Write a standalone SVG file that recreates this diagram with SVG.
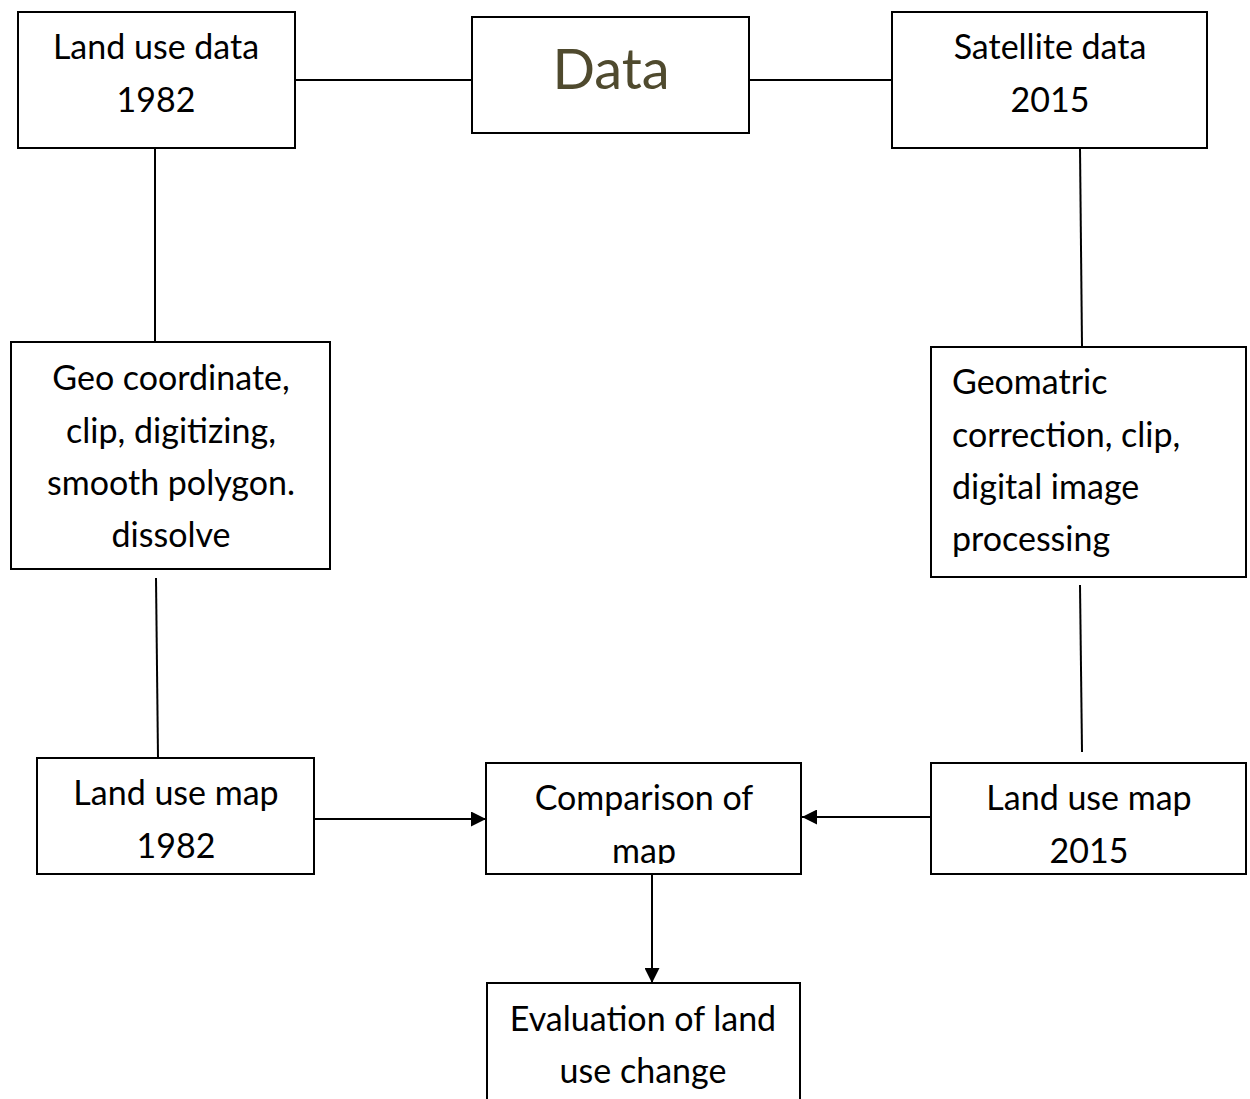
<svg xmlns="http://www.w3.org/2000/svg" width="1250" height="1099" viewBox="0 0 1250 1099">
<style>
.box{fill:#fff;stroke:#000;stroke-width:2}
.t{font-family:Lato,"Open Sans",sans-serif;font-size:34px;fill:#000;text-anchor:middle}
.l{text-anchor:start}
.c{stroke:#000;stroke-width:2;fill:none}
</style>
<defs>
<marker id="ah" viewBox="0 0 10 10" refX="10" refY="5" markerWidth="15" markerHeight="15" markerUnits="userSpaceOnUse" orient="auto">
<path d="M0,0 L10,5 L0,10 z" fill="#000"/>
</marker>
<clipPath id="cmpclip"><rect x="486" y="763" width="315" height="101"/></clipPath>
</defs>
<rect width="1250" height="1099" fill="#fff"/>
<g id="connectors">
<line class="c" x1="295" y1="80" x2="472" y2="80"/>
<line class="c" x1="749" y1="80" x2="892" y2="80"/>
<line class="c" x1="155" y1="148" x2="155" y2="342"/>
<line class="c" x1="1080" y1="148" x2="1082" y2="347"/>
<line class="c" x1="156" y1="578" x2="158" y2="758"/>
<line class="c" x1="1080" y1="585" x2="1082" y2="752"/>
<line class="c" x1="314" y1="819" x2="486" y2="819" marker-end="url(#ah)"/>
<line class="c" x1="931" y1="817" x2="802" y2="817" marker-end="url(#ah)"/>
<line class="c" x1="652" y1="874" x2="652" y2="983" marker-end="url(#ah)"/>
</g>
<g id="n-landuse1982">
<rect class="box" x="18" y="12" width="277" height="136"/>
<text class="t" x="156" y="59">Land use data</text>
<text class="t" x="156" y="112">1982</text>
</g>
<g id="n-data">
<rect class="box" x="472" y="17" width="277" height="116"/>
<text class="t" x="611" y="89" style="font-size:56px;fill:#4f4a2e">Data</text>
</g>
<g id="n-satellite">
<rect class="box" x="892" y="12" width="315" height="136"/>
<text class="t" x="1050" y="59">Satellite data</text>
<text class="t" x="1050" y="112">2015</text>
</g>
<g id="n-geo">
<rect class="box" x="11" y="342" width="319" height="227"/>
<text class="t" x="171" y="390">Geo coordinate,</text>
<text class="t" x="171" y="443">clip, digitizing,</text>
<text class="t" x="171" y="495">smooth polygon.</text>
<text class="t" x="171" y="547">dissolve</text>
</g>
<g id="n-geometric">
<rect class="box" x="931" y="347" width="315" height="230"/>
<text class="t l" x="952" y="394">Geomatric</text>
<text class="t l" x="952" y="447">correction, clip,</text>
<text class="t l" x="952" y="499">digital image</text>
<text class="t l" x="952" y="551">processing</text>
</g>
<g id="n-map1982">
<rect class="box" x="37" y="758" width="277" height="116"/>
<text class="t" x="176" y="805">Land use map</text>
<text class="t" x="176" y="858">1982</text>
</g>
<g id="n-comparison">
<rect class="box" x="486" y="763" width="315" height="111"/>
<g clip-path="url(#cmpclip)">
<text class="t" x="644" y="810">Comparison of</text>
<text class="t" x="644" y="863">map</text>
</g>
</g>
<g id="n-map2015">
<rect class="box" x="931" y="763" width="315" height="111"/>
<text class="t" x="1089" y="810">Land use map</text>
<text class="t" x="1089" y="863">2015</text>
</g>
<g id="n-evaluation">
<rect class="box" x="487" y="983" width="313" height="130"/>
<text class="t" x="643" y="1031">Evaluation of land</text>
<text class="t" x="643" y="1083">use change</text>
</g>
</svg>
